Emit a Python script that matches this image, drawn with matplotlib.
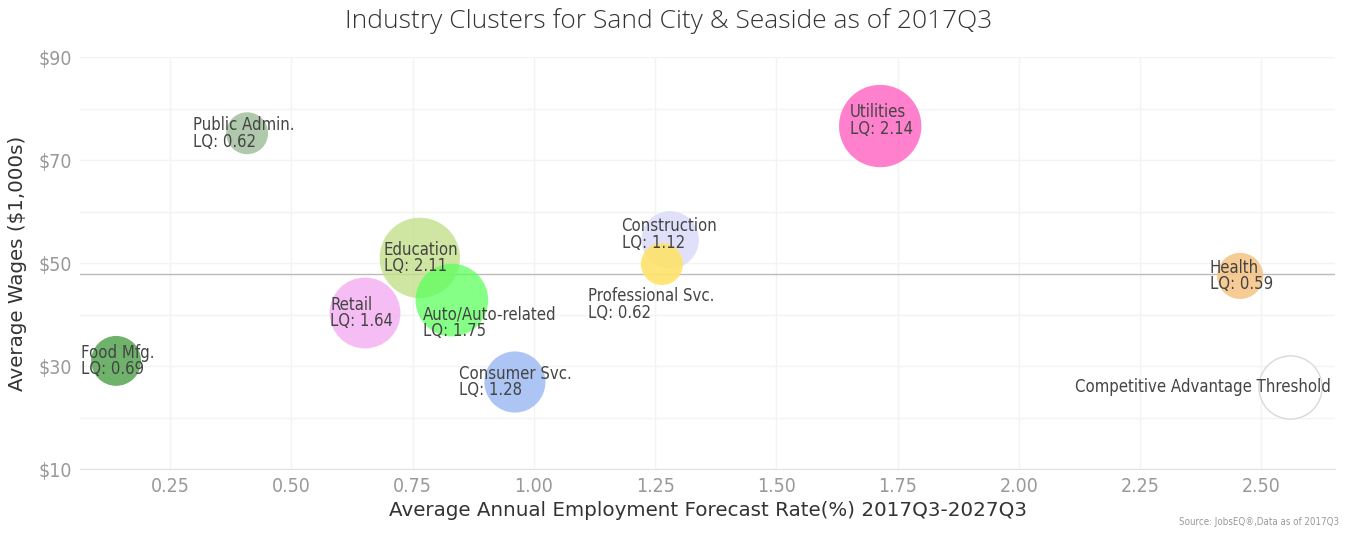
import matplotlib.pyplot as plt
import matplotlib.colors as mcolors

# cluster data
clusters = ["Public Admin.", "Utilities", "Construction", "Professional Svc.",
            "Education", "Auto/Auto-related", "Retail", "Food Mfg.",
            "Consumer Svc.", "Health"]
growth = [0.409, 1.714, 1.281, 1.264, 0.765, 0.831, 0.652, 0.139, 0.961, 2.456]
wages = [75.2, 76.6, 54.5, 49.8, 51.0, 42.8, 40.3, 31.0, 26.9, 47.5]
lq = [0.62, 2.14, 1.12, 0.62, 2.11, 1.75, 1.64, 0.69, 1.28, 0.59]
employment = [480, 1850, 900, 480, 1760, 1440, 1370, 680, 1020, 580]

threshold_growth = 2.559
threshold_wage = 25.9
threshold_size = 1090
avg_wage = 47.9

colors = ["#9dbb98", "#ff73c8", "#d9d9fa", "#ffe36a", "#c2e08a",
          "#5cff5c", "#f5b2f3", "#55a552", "#a3bff3", "#f5c688"]
alphas = [0.8, 0.9, 0.8, 0.9, 0.8, 0.75, 0.85, 0.85, 0.9, 0.9]
# label offsets (points) relative to bubble centre
offsets = [(-39, 0), (-22, 4), (-35, 4), (-53, -29), (-26, 0),
           (-21, -16), (-25, 0), (-25, 0), (-40, 0), (-22, 0)]

plt.rcParams['font.family'] = ['DejaVu Sans']

fig = plt.figure(figsize=(13.46, 5.33), dpi=100)
ax = fig.add_axes([0.0594, 0.12, 0.9326, 0.773])

# bubble area ~ employment; convert to marker area in points^2
def msize(e):
    return e * 1.9

face = [(*mcolors.to_rgb(c), a) for c, a in zip(colors, alphas)]
ax.scatter(growth, wages, s=[msize(e) for e in employment], c=face,
           linewidths=0, zorder=3)
ax.scatter([threshold_growth], [threshold_wage], s=msize(threshold_size),
           facecolor="white", edgecolor="#d9d9d9", linewidth=1, zorder=3)

for i, name in enumerate(clusters):
    ax.annotate(f"{name}\nLQ: {lq[i]:.2f}", (growth[i], wages[i]),
                xytext=offsets[i], textcoords="offset points",
                ha="left", va="center", fontsize=12, color="#444444",
                linespacing=0.9, zorder=4, fontstretch="condensed")

ax.annotate("Competitive Advantage Threshold", (threshold_growth, threshold_wage),
            xytext=(29, 0), textcoords="offset points", ha="right",
            va="center", fontsize=12, color="#444444", zorder=4,
            fontstretch="condensed")

ax.axhline(avg_wage, color="#bbbbbb", linewidth=1, zorder=2)

ax.set_xlim(0.0644, 2.652)
ax.set_ylim(10, 90)
ax.set_xticks([0.25, 0.5, 0.75, 1.0, 1.25, 1.5, 1.75, 2.0, 2.25, 2.5])
ax.set_xticklabels([f"{v:.2f}" for v in ax.get_xticks()], fontstretch="condensed")
ax.set_yticks([10, 30, 50, 70, 90])
ax.set_yticklabels([f"${v}" for v in [10, 30, 50, 70, 90]], fontstretch="condensed")
ax.set_yticks(range(20, 90, 20), minor=True)
ax.grid(True, which="both", color="#f3f3f3", linewidth=1, zorder=0)
ax.set_axisbelow(True)
for s in ["top", "right", "left"]:
    ax.spines[s].set_visible(False)
ax.spines["bottom"].set_color("#dde2ea")
ax.tick_params(length=0, labelsize=14, colors="#999999", pad=6)
ax.tick_params(which="minor", length=0)

ax.set_xlabel("Average Annual Employment Forecast Rate(%) 2017Q3-2027Q3",
              fontsize=14.3, color="#333333", labelpad=3)
ax.set_ylabel("Average Wages ($1,000s)", fontsize=14.3, color="#333333",
              labelpad=8)
fig.suptitle("Industry Clusters for Sand City & Seaside as of 2017Q3",
             x=0.497, y=0.985, fontsize=19, color="#333333",
             family=["Open Sans", "DejaVu Sans"], fontweight="light")
fig.text(0.995, 0.012, "Source: JobsEQ®,Data as of 2017Q3", ha="right",
         va="bottom", fontsize=7, color="#999999", fontstretch="condensed")

fig.savefig("out.png", dpi=100)
